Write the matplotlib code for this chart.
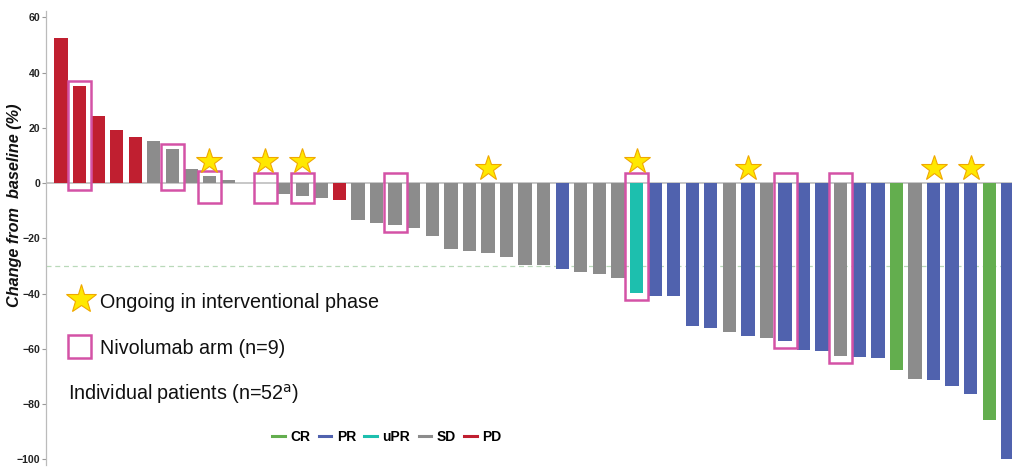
import numpy as np
import matplotlib
matplotlib.use("Agg")
import matplotlib.pyplot as plt
from matplotlib.patches import Rectangle
from matplotlib.lines import Line2D

# best change in target lesions, one bar per patient (sorted)
change = [52.6, 35.0, 24.4, 19.1, 16.8, 15.1, 12.3, 5.0, 2.5, 1.3,
          0.0, 0.0, -3.8, -4.5, -5.3, -6.0, -13.5, -14.4, -15.3, -16.2,
          -19.1, -24.0, -24.7, -25.4, -26.7, -29.5, -29.7, -31.2, -32.1, -32.8,
          -34.2, -39.7, -40.7, -40.9, -51.7, -52.4, -53.7, -55.2, -55.9, -57.3,
          -60.3, -60.6, -62.7, -63.0, -63.4, -67.6, -70.9, -71.1, -73.3, -76.4,
          -85.6, -100.0]
response = ["PD", "PD", "PD", "PD", "PD", "SD", "SD", "SD", "SD", "SD",
            "SD", "SD", "SD", "SD", "SD", "PD", "SD", "SD", "SD", "SD",
            "SD", "SD", "SD", "SD", "SD", "SD", "SD", "PR", "SD", "SD",
            "SD", "uPR", "PR", "PR", "PR", "PR", "SD", "PR", "SD", "PR",
            "PR", "PR", "SD", "PR", "PR", "CR", "SD", "PR", "PR", "PR",
            "CR", "PR"]
ongoing = [8, 11, 13, 23, 31, 37, 47, 49]       # patient index, star
nivolumab = [1, 6, 8, 11, 13, 18, 31, 39, 42]   # patient index, box

colors = {"CR": "#63ae4e", "PR": "#5062ae", "uPR": "#1dbfae",
          "SD": "#8c8c8c", "PD": "#c01f30"}
box_color = "#d452a6"

plt.rcParams["font.family"] = ["Liberation Sans", "DejaVu Sans"]

fig = plt.figure(figsize=(10.13, 4.67), dpi=100)
ax = fig.add_axes([0.0455, 0.0043, 0.954, 0.9732])

x = np.arange(len(change))
ax.bar(x, change, width=0.72, color=[colors[r] for r in response],
       edgecolor="none", zorder=2)

ax.axhline(0, color="#bdbdbd", lw=1.2, zorder=1)
ax.axhline(-30, color="#b9d9b9", lw=0.9, ls=(0, (4, 3)), zorder=1)

for i in nivolumab:
    v = change[i]
    top = max(v, 1.6) + 2.0
    bottom = -2.5 if v > 5 else min(v, -4.6) - 2.5
    ax.add_patch(Rectangle((i - 0.62, bottom), 1.24, top - bottom, fill=False,
                           ec=box_color, lw=1.8, zorder=3))

for i in ongoing:
    y = 8.0 if i in nivolumab else 5.5
    ax.plot(i, y, marker="*", ms=19, mfc="#ffe800", mec="#f0a800",
            mew=0.8, zorder=4)

ax.set_xlim(-0.8, 51.25)
ax.set_ylim(-102, 62.5)
ax.set_yticks(range(-100, 61, 20))
ax.tick_params(axis="y", length=3, width=0.8, color="#999999", pad=1,
               labelsize=7.6)
for lab in ax.get_yticklabels():
    lab.set_fontweight("bold")
    lab.set_color("#222222")
ax.set_xticks([])
for s in ["top", "right", "bottom"]:
    ax.spines[s].set_visible(False)
ax.spines["left"].set_color("#bbbbbb")
ax.spines["left"].set_linewidth(0.9)

fig.text(15 / 1013, 1 - 205 / 467, "Change from  baseline (%)", rotation=90,
         ha="center", va="center", fontsize=11.7, fontweight="bold",
         style="italic", color="#111111")

# key for stars, boxes and patient count
fig.lines.append(Line2D([80.5 / 1013], [1 - 299 / 467], marker="*", ms=22,
                        mfc="#ffe800", mec="#f0a800", mew=0.8,
                        transform=fig.transFigure))
fig.text(100 / 1013, 1 - 302 / 467, "Ongoing in interventional phase",
         fontsize=14.2, va="center", color="#111111")
fig.patches.append(Rectangle((68 / 1013, 1 - 358 / 467), 23 / 1013, 23 / 467,
                             fill=False, ec=box_color, lw=1.8,
                             transform=fig.transFigure))
fig.text(100 / 1013, 1 - 349 / 467, "Nivolumab arm (n=9)",
         fontsize=14.2, va="center", color="#111111")
fig.text(68 / 1013, 1 - 394 / 467, "Individual patients (n=52$^{\\mathrm{a}}$)",
         fontsize=14.2, va="center", color="#111111")

# response legend
handles = [Line2D([], [], color=colors[k], lw=2.2) for k in colors]
fig.legend(handles, list(colors), loc="center", ncol=5,
           bbox_to_anchor=(387 / 1013, 1 - 437 / 467), frameon=False,
           handlelength=0.9, handletextpad=0.4, columnspacing=0.6,
           prop={"size": 10, "weight": "bold"})

fig.savefig("out.png", dpi=100)
